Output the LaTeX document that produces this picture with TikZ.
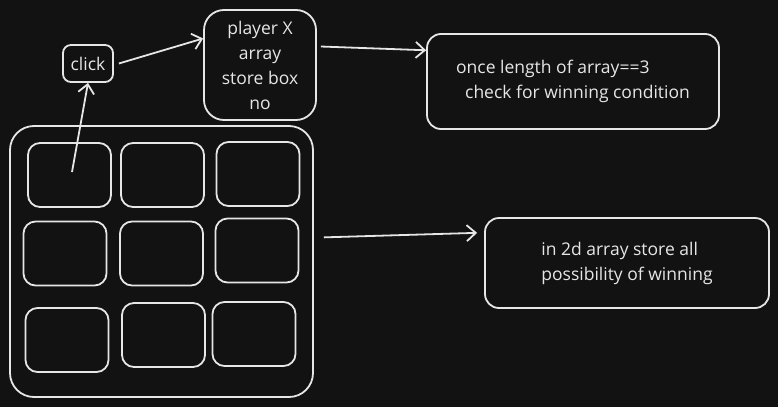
\documentclass[tikz,border=0pt]{standalone}
\usepackage{fontspec}
\setmainfont{Open Sans}
\usetikzlibrary{arrows.meta,positioning}
\definecolor{bgdark}{HTML}{121212}
\definecolor{chalk}{HTML}{E6E6E6}
\tikzset{
  cell/.style={rectangle, draw=chalk, line width=1.8pt, rounded corners=12pt, minimum width=83pt, minimum height=64pt},
  bbox/.style={rectangle, draw=chalk, line width=1.8pt, rounded corners=14pt, inner sep=0pt, text=chalk, font=\fontsize{17.5}{25}\selectfont},
  arr/.style={draw=chalk, line width=1.8pt, -{Straight Barb[length=9pt, width=16pt, line width=1.8pt]}},
}
\begin{document}
\begin{tikzpicture}[x=1pt, y=-1pt]
  \fill[bgdark] (0,0) rectangle (778,407);
  \useasboundingbox (0,0) rectangle (778,407);

  %% --- board with its nine cells ---
  \node[bbox, rounded corners=24pt, minimum width=303pt, minimum height=271pt] (board) at (161.5,261.5) {};
  \foreach \n/\x/\y in {1/69.5/175, 2/162.5/175, 3/258/174,
                         4/65/253.5, 5/161.5/253.5, 6/257/250.5,
                         7/67/340, 8/163.5/335, 9/254/334}
    \node[cell] (c\n) at (\x,\y) {};
  \coordinate (tap) at (72,172);

  %% --- boxes ---
  \node[bbox, rounded corners=8pt, minimum width=50pt, minimum height=37pt] (click) at (88,63.5) {click};
  \node[bbox, rounded corners=20pt, minimum width=112pt, minimum height=110pt, align=center] (player) at (260,65)
    {player X\\array\\store box\\no};
  \node[bbox, minimum width=292pt, minimum height=95pt, align=left] (once) at (573,81.5)
    {once length of array==3\\\hspace*{9pt}check for winning condition};
  \node[bbox, minimum width=284pt, minimum height=90pt, align=left] (poss) at (627,263)
    {in 2d array store all\\possibility of winning};

  %% --- arrows ---
  \draw[arr] (tap) -- (click.south);
  \draw[arr] ([xshift=5pt]click.east) -- (player.155);
  \draw[arr] ([xshift=4pt]player.18) -- (once.168);
  \draw[arr, shorten >=7pt] ([xshift=10pt]board.9) -- (poss.168);
\end{tikzpicture}
\end{document}
